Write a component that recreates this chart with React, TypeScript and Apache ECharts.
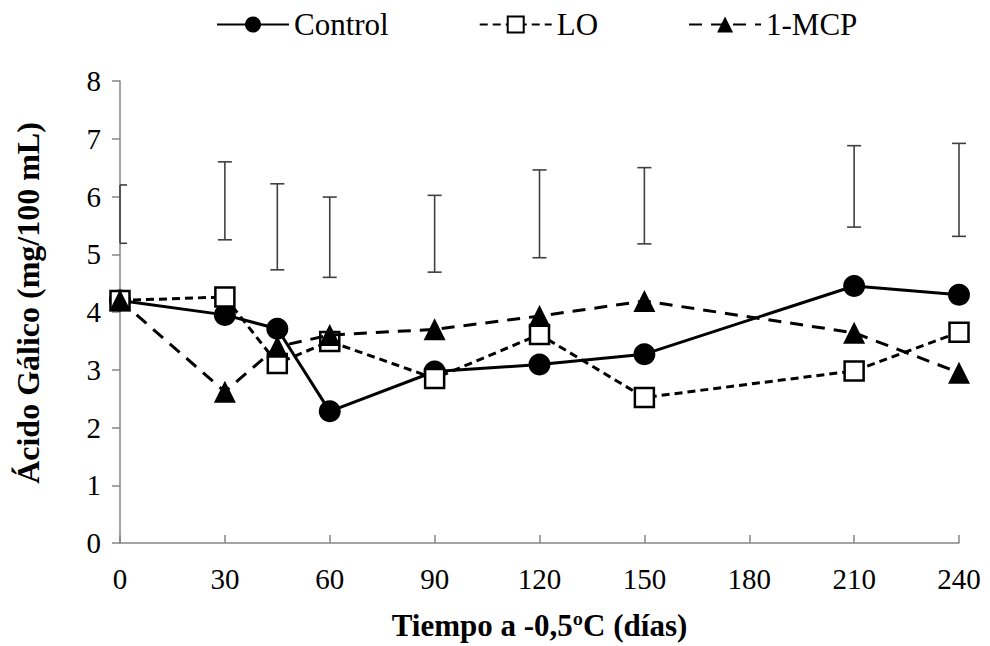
import React, { useEffect, useRef } from "react";
import * as echarts from "echarts";

const days = [0, 30, 45, 60, 90, 120, 150, 210, 240];
const controlValues = [4.2, 3.95, 3.71, 2.28, 2.97, 3.09, 3.27, 4.45, 4.3];
const loValues = [4.2, 4.26, 3.11, 3.49, 2.85, 3.61, 2.52, 2.98, 3.65];
const mcpValues = [4.2, 2.62, 3.4, 3.6, 3.7, 3.93, 4.19, 3.64, 2.95];
const errLow = [5.19, 5.25, 4.73, 4.6, 4.69, 4.94, 5.18, 5.47, 5.31];
const errHigh = [6.2, 6.6, 6.22, 5.99, 6.02, 6.46, 6.5, 6.88, 6.92];
const seriesNames = ["Control", "LO", "1-MCP"];

const FONT = "Liberation Serif";

export default function App() {
  const ref = useRef<HTMLDivElement>(null);
  useEffect(() => {
    if (!ref.current) return;
    const chart = echarts.init(ref.current, null, { renderer: "svg" });
    const pair = (vals: number[]) => days.map((d, i) => [d, vals[i]]);
    const option: any = {
      animation: false,
      backgroundColor: "#ffffff",
      textStyle: { fontFamily: FONT, color: "#000" },
      legend: {
        data: seriesNames,
        left: 211,
        top: 4,
        itemWidth: 72,
        itemHeight: 20,
        itemGap: 90,
        textStyle: { fontFamily: FONT, fontSize: 31, color: "#000" },
      },
      grid: { left: 120, right: 31, top: 81, bottom: 101, containLabel: false },
      xAxis: {
        type: "value",
        min: 0,
        max: 240,
        interval: 30,
        name: "Tiempo a -0,5ºC (días)",
        nameLocation: "middle",
        nameGap: 67,
        nameTextStyle: { fontFamily: FONT, fontSize: 31, fontWeight: "bold", color: "#000" },
        axisLine: { show: true, lineStyle: { color: "#868686", width: 1.5 } },
        axisTick: { show: true, inside: true, length: 8, lineStyle: { color: "#868686", width: 1.5 } },
        axisLabel: { fontFamily: FONT, fontSize: 29, color: "#000", margin: 21 },
        splitLine: { show: false },
      },
      yAxis: {
        type: "value",
        min: 0,
        max: 8,
        interval: 1,
        name: "Ácido Gálico (mg/100 mL)",
        nameLocation: "middle",
        nameGap: 76,
        nameTextStyle: {
          fontFamily: FONT,
          fontSize: 32,
          fontWeight: "bold",
          color: "#000",
          padding: [0, 0, 0, 18],
        },
        axisLine: { show: true, lineStyle: { color: "#868686", width: 1.5 } },
        axisTick: { show: true, inside: false, length: 8, lineStyle: { color: "#868686", width: 1.5 } },
        axisLabel: { fontFamily: FONT, fontSize: 29, color: "#000", margin: 19 },
        splitLine: { show: false },
      },
      series: [
        {
          type: "custom",
          name: "error",
          clip: false,
          z: 1,
          data: days.map((d, i) => [d, errLow[i], errHigh[i]]),
          renderItem: (params: any, api: any) => {
            const lo = api.coord([api.value(0), api.value(1)]);
            const hi = api.coord([api.value(0), api.value(2)]);
            const cap = 7;
            const left = Math.max(lo[0] - cap, params.coordSys.x);
            const style = { stroke: "#404040", lineWidth: 1.6 };
            return {
              type: "group",
              children: [
                { type: "line", shape: { x1: lo[0], y1: lo[1], x2: hi[0], y2: hi[1] }, style },
                { type: "line", shape: { x1: left, y1: lo[1], x2: lo[0] + cap, y2: lo[1] }, style },
                { type: "line", shape: { x1: left, y1: hi[1], x2: hi[0] + cap, y2: hi[1] }, style },
              ],
            };
          },
        },
        {
          type: "line",
          name: "Control",
          data: pair(controlValues),
          symbol: "circle",
          symbolSize: 22,
          z: 3,
          lineStyle: { color: "#000", width: 3, type: "solid" },
          itemStyle: { color: "#000", borderColor: "#000", borderWidth: 0 },
        },
        {
          type: "line",
          name: "LO",
          data: pair(loValues),
          symbol: "rect",
          symbolSize: 19,
          z: 4,
          lineStyle: { color: "#000", width: 3, type: [8, 5] },
          itemStyle: { color: "#fff", borderColor: "#000", borderWidth: 2.5 },
        },
        {
          type: "line",
          name: "1-MCP",
          data: pair(mcpValues),
          symbol: "triangle",
          symbolSize: 22,
          z: 5,
          lineStyle: { color: "#000", width: 3, type: [13, 9] },
          itemStyle: { color: "#000", borderColor: "#000", borderWidth: 0 },
        },
      ],
    };
    chart.setOption(option);
    return () => chart.dispose();
  }, []);
  return (
    <div
      ref={ref}
      style={{ position: "fixed", left: 0, top: 0, width: 990, height: 646, background: "#fff" }}
    />
  );
}
